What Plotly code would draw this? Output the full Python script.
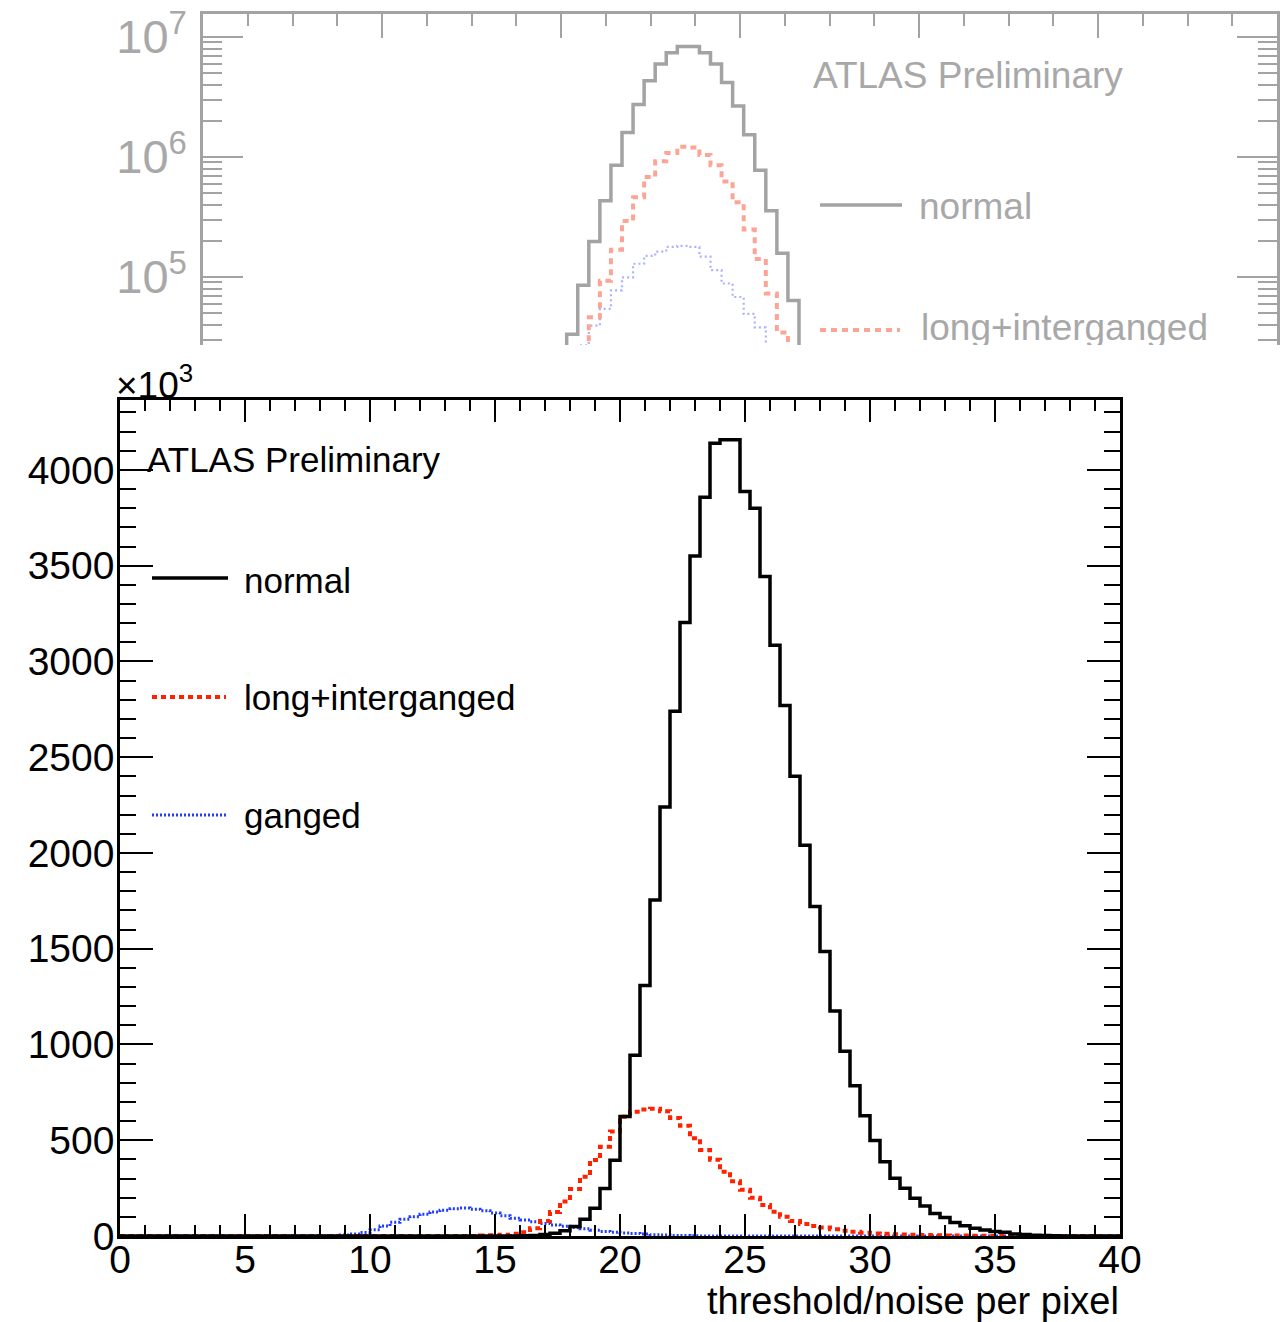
import plotly.graph_objects as go

W, H = 1287, 1322
FONT = "Liberation Sans"

# ---------------- main (linear) panel data: entries in units of 10^3 per 0.4 bin -------------
BIN_WIDTH = 0.4
N_BINS = 100
NORMAL_FIRST_BIN = 16.0
NORMAL = [1, 3, 8, 15, 28, 49, 87, 145, 248, 396,
          624, 944, 1308, 1755, 2240, 2740, 3203, 3551, 3857, 4139,
          4157, 4157, 3887, 3800, 3443, 3085, 2770, 2400, 2040, 1720,
          1485, 1175, 965, 785, 628, 498, 388, 301, 249, 197,
          157, 118, 97, 70, 54, 40, 31, 23, 20, 10,
          8, 4, 2, 1]
LONG_FIRST_BIN = 14.4
LONG = [2, 4, 7, 12, 20, 40, 78, 125, 180, 245,
        310, 397, 466, 545, 623, 649, 661, 665, 652, 616,
        575, 510, 449, 398, 336, 286, 242, 200, 162, 127,
        101, 78, 63, 52, 44, 35, 28, 22, 17, 13,
        12, 9, 8, 6, 5, 4, 3, 2, 2, 1, 1]
GANGED_FIRST_BIN = 8.0
GANGED = [1, 2, 5, 10, 18, 33, 52, 72, 87, 100,
          113, 125, 135, 142, 146, 140, 132, 120, 106, 93,
          83, 74, 65, 57, 51, 45, 38, 30, 24, 20,
          16, 13, 10, 7, 5, 3, 2, 1]

X_TICKS = [0, 5, 10, 15, 20, 25, 30, 35, 40]
Y_TICKS = [0, 500, 1000, 1500, 2000, 2500, 3000, 3500, 4000]
Y_MAX = 4365

# ---------------- top (log) panel data, partly hidden below its lower edge ----------------
TOP_FIRST_EDGE = 1.970
TOP_BIN_WIDTH = 0.0618
TOP_NORMAL = [1.2e4, 3.34e4, 8.55e4, 1.98e5, 4.32e5, 8.53e5, 1.60e6, 2.74e6, 4.32e6, 5.97e6,
              7.38e6, 8.35e6, 8.35e6, 7.38e6, 5.97e6, 4.18e6, 2.66e6, 1.53e6, 7.74e5, 3.56e5,
              1.58e5, 6.38e4, 2.3e4, 7e3]
TOP_LONG = [1e3, 5e3, 1.8e4, 4.61e4, 9.3e4, 1.69e5, 2.93e5, 4.61e5, 6.8e5, 9.23e5,
            1.08e6, 1.22e6, 1.2e6, 1.04e6, 8.53e5, 6.25e5, 4.19e5, 2.49e5, 1.41e5, 7.28e4,
            3.45e4, 1.5e4, 5e3, 1.5e3]
TOP_GANGED = [2e3, 1.2e4, 2.7e4, 3.93e4, 5.42e4, 7.74e4, 9.93e4, 1.29e5, 1.5e5, 1.63e5,
              1.78e5, 1.82e5, 1.78e5, 1.48e5, 1.14e5, 8.83e4, 6.81e4, 4.92e4, 3.8e4, 2.6e4,
              1.5e4, 7e3, 3e3, 1e3]
TOP_MAJOR = [1e5, 1e6, 1e7]
TOP_MAJOR_TEXT = ["10<sup>5</sup>", "10<sup>6</sup>", "10<sup>7</sup>"]


def full_bins(first, values):
    arr = [0] * N_BINS
    i0 = int(round(first / BIN_WIDTH))
    for k, v in enumerate(values):
        arr[i0 + k] = v
    return arr


main_edges = [round(i * BIN_WIDTH, 4) for i in range(N_BINS + 1)]
top_edges = [TOP_FIRST_EDGE + i * TOP_BIN_WIDTH for i in range(len(TOP_NORMAL) + 1)]


def px(xp):
    return xp / W


def py(yp):
    return 1 - yp / H


fig = go.Figure()

# ---- top panel traces (faded) ----
TOP_GRAY = "#a3a3a3"
TOP_RED = "#fca596"
TOP_BLUE = "#aab2ff"
for vals, col, dash, w in [(TOP_GANGED, TOP_BLUE, "2px,3px", 2.2),
                           (TOP_LONG, TOP_RED, "6px,5px", 4),
                           (TOP_NORMAL, TOP_GRAY, "solid", 3.5)]:
    fig.add_trace(go.Scatter(x=top_edges, y=list(vals) + [vals[-1]], mode="lines",
                             line=dict(shape="hv", color=col, width=w, dash=dash),
                             xaxis="x2", yaxis="y2", showlegend=False, hoverinfo="skip"))

# clipped legend text of the top panel
fig.add_trace(go.Scatter(x=[(921 - 203) / 179.0], y=[10 ** (7 - (331 - 37) / 120.0)],
                         mode="text", text=["long+interganged"], textposition="middle right",
                         textfont=dict(family=FONT, size=37, color="#a8a8a8"),
                         cliponaxis=True, xaxis="x2", yaxis="y2", showlegend=False,
                         hoverinfo="skip"))

# ---- main panel traces ----
for vals, first, col, dash, w in [(GANGED, GANGED_FIRST_BIN, "#1f3cff", "2px,2px", 3),
                                  (LONG, LONG_FIRST_BIN, "#ff2200", "5px,4px", 4),
                                  (NORMAL, NORMAL_FIRST_BIN, "#000000", "solid", 3.5)]:
    b = full_bins(first, vals)
    fig.add_trace(go.Scatter(x=main_edges, y=b + [b[-1]], mode="lines",
                             line=dict(shape="hv", color=col, width=w, dash=dash),
                             xaxis="x", yaxis="y", showlegend=False, hoverinfo="skip"))

tickfont = dict(family=FONT, size=39, color="black")

fig.update_layout(
    width=W, height=H,
    margin=dict(l=0, r=0, t=0, b=0, autoexpand=False),
    paper_bgcolor="white", plot_bgcolor="rgba(0,0,0,0)",
    showlegend=False,
    xaxis=dict(domain=[px(120), px(1120)], anchor="y", range=[0, 40], automargin=False,
               tickvals=X_TICKS, ticks="inside", ticklen=22, tickwidth=2, tickcolor="black",
               ticklabelstandoff=-13,
               minor=dict(dtick=1, ticks="inside", ticklen=11, tickwidth=2, tickcolor="black",
                          showgrid=False),
               showline=True, linecolor="black", linewidth=2.5, mirror="allticks",
               showgrid=False, zeroline=False, tickfont=tickfont),
    yaxis=dict(domain=[py(1236), py(400)], anchor="x", range=[0, Y_MAX], automargin=False,
               tickvals=Y_TICKS, ticks="inside", ticklen=33, tickwidth=2, tickcolor="black",
               ticklabelstandoff=-5,
               minor=dict(dtick=100, ticks="inside", ticklen=16, tickwidth=2, tickcolor="black",
                          showgrid=False),
               showline=True, linecolor="black", linewidth=2.5, mirror="allticks",
               showgrid=False, zeroline=False, tickfont=tickfont),
    xaxis2=dict(domain=[px(203), px(1277)], anchor="y2", side="top", range=[0, 6],
                automargin=False,
                dtick=1, tick0=0, ticks="inside", ticklen=24, tickwidth=2, tickcolor=TOP_GRAY,
                minor=dict(dtick=0.25, ticks="inside", ticklen=12, tickwidth=2,
                           tickcolor=TOP_GRAY, showgrid=False),
                showticklabels=False, showline=True, linecolor=TOP_GRAY, linewidth=2.5,
                mirror=False, showgrid=False, zeroline=False),
    yaxis2=dict(domain=[py(345), py(14)], anchor="x2", type="log", automargin=False,
                range=[7 - (345 - 37) / 120.0, 7 + (37 - 14) / 120.0],
                tickvals=TOP_MAJOR, ticktext=TOP_MAJOR_TEXT, ticks="inside", ticklen=40,
                tickwidth=2, tickcolor=TOP_GRAY, ticklabelstandoff=4,
                minor=dict(tickvals=[m * 10 ** e for e in (4, 5, 6) for m in range(2, 10)],
                           ticks="inside", ticklen=19, tickwidth=2, tickcolor=TOP_GRAY,
                           showgrid=False),
                showline=True, linecolor=TOP_GRAY, linewidth=2.5, mirror="allticks",
                showgrid=False, zeroline=False,
                tickfont=dict(family=FONT, size=47, color="#a8a8a8")),
)

ann = []


def text(xp, yp, s, size, color="black", xanchor="left"):
    ann.append(dict(x=px(xp), y=py(yp), xref="paper", yref="paper", text=s, showarrow=False,
                    xanchor=xanchor, yanchor="middle",
                    font=dict(family=FONT, size=size, color=color)))


# main panel texts
text(145, 459, "ATLAS Preliminary", 35)
text(242, 580, "normal", 35)
text(242, 697, "long+interganged", 35)
text(242, 815, "ganged", 35)
text(114, 383, "×10<sup>3</sup>", 37)
text(1121, 1301, "threshold/noise per pixel", 38, xanchor="right")
# top panel texts
text(811, 75, "ATLAS Preliminary", 37, "#a8a8a8")
text(917, 207, "normal", 37, "#a8a8a8")
fig.update_layout(annotations=ann)

shapes = []


def hline(x0, x1, yp, color, width, dash="solid"):
    shapes.append(dict(type="line", xref="paper", yref="paper", x0=px(x0), x1=px(x1),
                       y0=py(yp), y1=py(yp), line=dict(color=color, width=width, dash=dash)))


hline(152, 228, 578, "black", 3.5)
hline(152, 226, 697, "#ff2200", 4, "5px,4px")
hline(152, 228, 815, "#1f3cff", 3, "2px,2px")
hline(820, 902, 205, TOP_GRAY, 3.5)
hline(820, 900, 330, TOP_RED, 4, "6px,5px")
fig.update_layout(shapes=shapes)

fig.write_html("out.html")
